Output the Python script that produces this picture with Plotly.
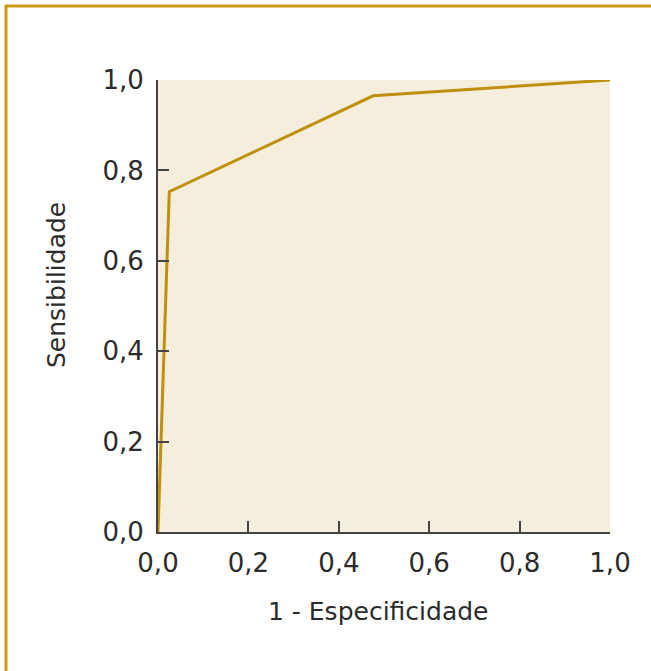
import plotly.graph_objects as go

# ROC curve points
fpr = [0.0, 0.025, 0.476, 1.0]
tpr = [0.0, 0.753, 0.965, 1.0]
tick_vals = [0.0, 0.2, 0.4, 0.6, 0.8, 1.0]
x_title = "1 - Especificidade"
y_title = "Sensibilidade"

GOLD = "#BF900E"
FRAME = "#C99A16"
BG = "#F6EEDD"
AXIS = "#444444"
TEXT = "#2b2b2b"
FONT = "DejaVu Sans, sans-serif"

fig = go.Figure()
fig.add_trace(go.Scatter(
    x=fpr, y=tpr, mode="lines",
    line=dict(color=GOLD, width=3),
    showlegend=False, hoverinfo="skip",
))

L, R, T, B = 158, 41, 80, 139
W, H = 651, 671
pw, ph = W - L - R, H - T - B

def px(x):
    return (x - L) / pw

def py(y):
    return (H - B - y) / ph

# Gold frame along the top and left edges of the figure
fig.add_shape(type="line", xref="paper", yref="paper",
              x0=px(5), x1=px(W + 5), y0=py(6), y1=py(6),
              line=dict(color=FRAME, width=3))
fig.add_shape(type="line", xref="paper", yref="paper",
              x0=px(6), x1=px(6), y0=py(5), y1=py(H + 5),
              line=dict(color=FRAME, width=3))

axis_common = dict(
    range=[0, 1], tickvals=tick_vals, tickformat=".1f",
    ticks="inside", ticklen=11, tickwidth=2, tickcolor=AXIS,
    showline=True, linecolor=AXIS, linewidth=2,
    showgrid=False, zeroline=False, fixedrange=True,
    tickfont=dict(family=FONT, size=26, color=TEXT),
)

fig.update_xaxes(**axis_common, ticklabelstandoff=7)
fig.update_yaxes(**axis_common, ticklabelstandoff=7)

# Axis titles
fig.add_annotation(text=x_title, xref="paper", yref="paper",
                   x=px(378), y=py(611), xanchor="center", yanchor="middle",
                   showarrow=False, font=dict(family=FONT, size=25, color=TEXT))
fig.add_annotation(text=y_title, xref="paper", yref="paper",
                   x=px(56), y=py(285), xanchor="center", yanchor="middle",
                   textangle=-90, showarrow=False,
                   font=dict(family=FONT, size=25, color=TEXT))

fig.update_layout(
    width=W, height=H,
    margin=dict(l=L, r=R, t=T, b=B),
    paper_bgcolor="white", plot_bgcolor=BG,
    separators=",.",
)

fig.write_html("out.html")
